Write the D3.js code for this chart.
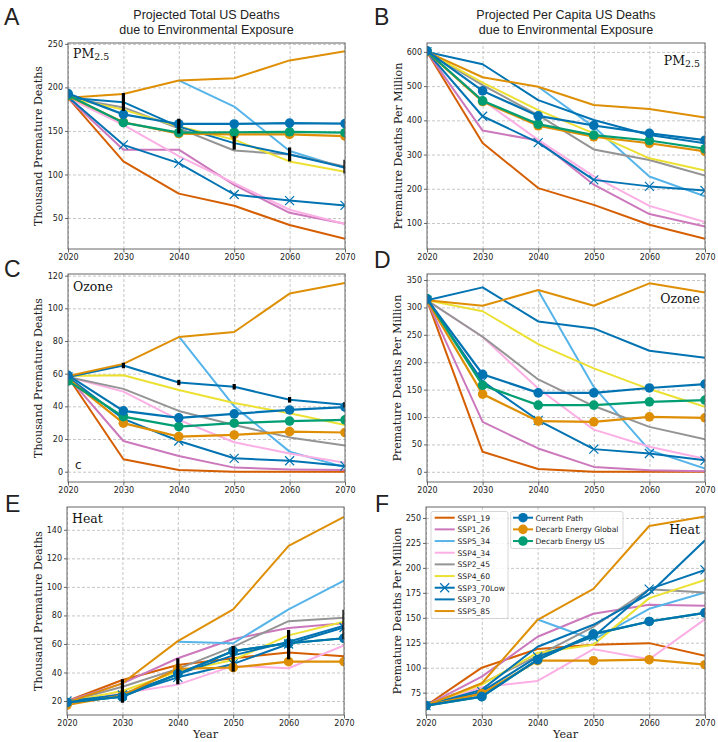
<!DOCTYPE html>
<html><head><meta charset="utf-8">
<script src="https://cdn.jsdelivr.net/npm/d3@7"></script>
<style>body{margin:0;background:#fff;} svg{display:block;}</style>
</head><body>
<svg id="chart" width="718" height="742"></svg>
<script>
// ---------------- DATA ----------------
const years = [2020, 2030, 2040, 2050, 2060, 2070];
const seriesNames = ["SSP1_19","SSP1_26","SSP5_34","SSP4_34","SSP2_45","SSP4_60","SSP3_70Low","SSP3_70","SSP5_85","Current Path","Decarb Energy Global","Decarb Energy US"];
const sspNames = ["SSP1_19","SSP1_26","SSP5_34","SSP4_34","SSP2_45","SSP4_60","SSP3_70Low","SSP3_70","SSP5_85"];
const pathNames = ["Current Path","Decarb Energy Global","Decarb Energy US"];

// rows follow seriesNames order
const pmTotal = [
  [188, 115, 78, 64, 42, 26],
  [188, 128.5, 128.5, 88, 56, 43.5],
  [null, null, 208, 178, 127, 107.5],
  [188, 157, 121, 90, 59.5, 43],
  [188, 177, 153, 127.5, 123, 109],
  [188, 174.5, 155, 140, 115, 103],
  [189, 134, 113, 77, 70, 64.5],
  [188, 183, 155, 136, 123, 108],
  [188, 192.5, 208, 210.5, 231, 241.5],
  [193, 169, 158, 158, 159, 158.5],
  [190, 160, 147, 146, 146, 144],
  [191, 159.5, 148, 148.5, 149, 148]
];
const pmTotalErrLow  = [null, 173, 147, 128.5, 115, 101];
const pmTotalErrHigh = [null, 193.5, 164, 144, 131, 117];

const pmPerCap = [
  [600, 334, 202, 153, 95, 54],
  [600, 370, 341, 212, 126, 90],
  [null, null, 498, 381, 236, 178],
  [600, 459, 343, 236, 150, 103],
  [600, 503, 415, 315, 284, 239],
  [600, 510, 430, 362, 289, 253],
  [600, 412, 335, 226, 207, 195],
  [600, 564, 459, 401, 357, 333],
  [600, 526, 498, 445, 433, 408],
  [603, 486, 413, 385, 362, 342],
  [600, 455, 384, 352, 333, 309],
  [602, 457, 389, 357, 341, 317]
];

const ozTotal = [
  [58, 7.6, 1, 0, 0, 0],
  [58, 18.8, 9.6, 2.5, 1.4, 1],
  [null, null, 82.8, 40, 12.3, 2.7],
  [58, 49, 31.7, 18, 11.2, 5.5],
  [58, 50.7, 37.2, 28.6, 21, 16],
  [58.5, 59, 50, 42, 35.8, 28.6],
  [58, 32.3, 18.8, 8.2, 6.7, 3.5],
  [58, 65, 54.6, 52, 44, 41],
  [58.5, 66, 82.4, 85.5, 109, 115.5],
  [59, 37.2, 33, 35.4, 37.8, 39.5],
  [57, 29.7, 21.5, 22.5, 24.5, 24],
  [55.5, 33.7, 27.6, 29.7, 31, 31.7]
];
const ozTotalErrLow  = [null, 63.3, 53, 50.3, 42.3, 39.3];
const ozTotalErrHigh = [null, 66.7, 56.2, 53.7, 45.7, 42.7];

const ozPerCap = [
  [313, 36.5, 5, 0, 0, 0],
  [313, 91, 42.6, 9, 3, 1],
  [null, null, 331, 155, 39.6, 6],
  [313, 246, 152, 77, 45.6, 24],
  [313, 246.5, 168.6, 120, 82, 59.6],
  [313, 293, 233, 188.7, 151, 118.7],
  [313, 165, 94, 41.4, 33.5, 21],
  [313, 336.6, 274.5, 261.7, 221, 208],
  [313, 303, 331.7, 303, 344, 327],
  [315, 178, 144, 144, 153, 160],
  [313, 141.8, 92.5, 91.3, 100.4, 98.6],
  [316, 158, 121.7, 121.7, 127.8, 131]
];

const heatTotal = [
  [20, 34.7, 45.3, 50, 54, 51.3],
  [20, 32.4, 50, 63.5, 71.2, 74.5],
  [null, null, 61.6, 60.5, 84.3, 104.4],
  [19, 25.4, 31.5, 44.6, 43, 59],
  [19.5, 30, 42.5, 58, 76, 78.3],
  [19.5, 27, 40.6, 48.8, 66, 75.5],
  [20, 24.2, 36.6, 46, 60, 71.5],
  [19, 24.7, 38.7, 52, 61.5, 72.8],
  [19, 32.4, 62, 84.3, 128.8, 149],
  [19, 23, 39, 55, 60.5, 64],
  [17.2, 24, 42.5, 43.5, 47.6, 47.6],
  [19, 23, 39, 55, 60.5, 64]
];
const heatTotalErrLow  = [null, 18.8, 31.7, 40.6, 49.2, 63.3];
const heatTotalErrHigh = [null, 35.3, 50, 58.6, 69.8, 84];

const heatPerCap = [
  [62, 100, 118.7, 123, 124.6, 112],
  [62, 91, 131, 154, 163, 162],
  [null, null, 148.3, 128, 159, 175.4],
  [62, 80.4, 86.7, 118.6, 108.5, 148.6],
  [62, 84, 112, 141, 178.7, 175.4],
  [62, 83, 115, 123, 169.7, 188],
  [62, 76, 111, 131, 178.7, 198],
  [62, 78, 121, 143, 174, 227.6],
  [62, 84.4, 148, 179, 242, 251.6],
  [62, 71, 108, 133.6, 146.3, 155],
  [62, 74, 107, 107, 108, 103],
  [62, 71, 108, 133.6, 146.3, 155]
];

const yTicksPmTotal  = [50, 100, 150, 200, 250];
const yTicksPmPerCap = [100, 200, 300, 400, 500, 600];
const yTicksOzTotal  = [0, 20, 40, 60, 80, 100, 120];
const yTicksOzPerCap = [0, 50, 100, 150, 200, 250, 300, 350];
const yTicksHeatTotal  = [20, 40, 60, 80, 100, 120, 140];
const yTicksHeatPerCap = [75, 100, 125, 150, 175, 200, 225, 250];

// ---------------- STYLE ----------------
const colors = {
  "SSP1_19":"#D55E00","SSP1_26":"#CC78BC","SSP5_34":"#56B4E9","SSP4_34":"#FBAFE4",
  "SSP2_45":"#949494","SSP4_60":"#ECE133","SSP3_70Low":"#0173B2","SSP3_70":"#0173B2",
  "SSP5_85":"#DE8F05","Current Path":"#0173B2","Decarb Energy Global":"#DE8F05","Decarb Energy US":"#029E73"
};
const SANS = "'DejaVu Sans', sans-serif";
const SERIF = "'DejaVu Serif', serif";
const TITLE = "'Liberation Sans', Arial, sans-serif";

const svg = d3.select("#chart");

const panels = [
  {letter:"A", data:pmTotal, x0:68, x1:345, y0:43, y1:249, domain:[14.4,251], ticks:yTicksPmTotal, ylabel:"Thousand Premature Deaths", lx:42, tag:"PM", tagRight:false, tagDy:15.3, err:[pmTotalErrLow,pmTotalErrHigh], lpos:[4,25]},
  {letter:"B", data:pmPerCap, x0:427, x1:705, y0:43, y1:249, domain:[24,626], ticks:yTicksPmPerCap, ylabel:"Premature Deaths Per Million", lx:401.5, tag:"PM", tagRight:true, tagDy:22, err:null, lpos:[374,25]},
  {letter:"C", data:ozTotal, x0:68, x1:345, y0:274, y1:482, domain:[-6.3,121], ticks:yTicksOzTotal, ylabel:"Thousand Premature Deaths", lx:41.5, tag:"Ozone", tagRight:false, tagDy:16.7, err:[ozTotalErrLow,ozTotalErrHigh], lpos:[4,277]},
  {letter:"D", data:ozPerCap, x0:427, x1:705, y0:274, y1:482, domain:[-18.6,361], ticks:yTicksOzPerCap, ylabel:"Premature Deaths Per Million", lx:401, tag:"Ozone", tagRight:true, tagDy:29.3, err:null, lpos:[374,268]},
  {letter:"E", data:heatTotal, x0:67, x1:344, y0:507, y1:715, domain:[10.2,156], ticks:yTicksHeatTotal, ylabel:"Thousand Premature Deaths", lx:41.5, tag:"Heat", tagRight:false, tagDy:16.3, err:[heatTotalErrLow,heatTotalErrHigh], lpos:[5,512], xlabel:"Year"},
  {letter:"F", data:heatPerCap, x0:426, x1:705, y0:507, y1:715, domain:[52.6,261], ticks:yTicksHeatPerCap, ylabel:"Premature Deaths Per Million", lx:401, tag:"Heat", tagRight:true, tagDy:27, err:null, lpos:[375,512], xlabel:"Year", legend:true}
];

// titles
const titles = [
  {cx:206.5, lines:["Projected Total US Deaths","due to Environmental Exposure"]},
  {cx:566, lines:["Projected Per Capita US Deaths","due to Environmental Exposure"]}
];
titles.forEach(t => {
  t.lines.forEach((ln,i) => {
    svg.append("text").attr("x",t.cx).attr("y",19 + i*14.5).attr("text-anchor","middle")
      .attr("font-family",TITLE).attr("font-size",12.5).attr("fill","#222").text(ln);
  });
});

function xMarker(g, cx, cy, color) {
  const s = 4.5;
  g.append("path").attr("d",`M${cx-s},${cy-s}L${cx+s},${cy+s}M${cx-s},${cy+s}L${cx+s},${cy-s}`)
    .attr("stroke",color).attr("stroke-width",1.2).attr("fill","none");
}

panels.forEach((p, pi) => {
  const g = svg.append("g");
  const x = d3.scaleLinear().domain([2020,2070]).range([p.x0,p.x1]);
  const y = d3.scaleLinear().domain(p.domain).range([p.y1,p.y0]);
  const W = p.x1-p.x0, H = p.y1-p.y0;

  // grid
  const gx = g.append("g").attr("transform",`translate(0,${p.y1})`)
    .call(d3.axisBottom(x).tickValues(years).tickSize(-H).tickFormat(""));
  const gy = g.append("g").attr("transform",`translate(${p.x0},0)`)
    .call(d3.axisLeft(y).tickValues(p.ticks).tickSize(-W).tickFormat(""));
  [gx,gy].forEach(a => {
    a.select(".domain").remove();
    a.selectAll("line").attr("stroke","#b8b8b8").attr("stroke-width",0.8).attr("stroke-dasharray","3,2");
  });

  // clip
  const cid = "clip"+pi;
  svg.append("clipPath").attr("id",cid).append("rect")
    .attr("x",p.x0).attr("y",p.y0).attr("width",W).attr("height",H);
  const plot = g.append("g").attr("clip-path",`url(#${cid})`);

  const line = d3.line().defined(d => d[1] !== null).x(d => x(d[0])).y(d => y(d[1]));

  // SSP lines
  sspNames.forEach(name => {
    const idx = seriesNames.indexOf(name);
    const pts = years.map((yr,i) => [yr, p.data[idx][i]]);
    plot.append("path").datum(pts).attr("d",line).attr("fill","none")
      .attr("stroke",colors[name]).attr("stroke-width",2).attr("stroke-linejoin","round");
    if (name === "SSP3_70Low") {
      pts.filter(d => d[1] !== null).forEach(d => xMarker(plot, x(d[0]), y(d[1]), colors[name]));
    }
  });

  // pathway series with circle markers: drawn Global, US, Current
  ["Decarb Energy Global","Decarb Energy US","Current Path"].forEach(name => {
    const idx = seriesNames.indexOf(name);
    const pts = years.map((yr,i) => [yr, p.data[idx][i]]);
    plot.append("path").datum(pts).attr("d",line).attr("fill","none")
      .attr("stroke",colors[name]).attr("stroke-width",2.2);
    plot.selectAll(null).data(pts).enter().append("circle")
      .attr("cx",d => x(d[0])).attr("cy",d => y(d[1])).attr("r",4.8).attr("fill",colors[name]);
  });

  // error bars
  if (p.err) {
    years.forEach((yr,i) => {
      if (p.err[0][i] === null) return;
      plot.append("line").attr("x1",x(yr)).attr("x2",x(yr))
        .attr("y1",y(p.err[0][i])).attr("y2",y(p.err[1][i]))
        .attr("stroke","#000").attr("stroke-width",3.2);
    });
  }

  // frame
  g.append("rect").attr("x",p.x0).attr("y",p.y0).attr("width",W).attr("height",H)
    .attr("fill","none").attr("stroke","#666").attr("stroke-width",1);

  // axes
  const ax = g.append("g").attr("transform",`translate(0,${p.y1})`)
    .call(d3.axisBottom(x).tickValues(years).tickFormat(d3.format("d")).tickSize(3.5).tickPadding(2));
  const ay = g.append("g").attr("transform",`translate(${p.x0},0)`)
    .call(d3.axisLeft(y).tickValues(p.ticks).tickFormat(d3.format("d")).tickSize(3).tickPadding(2));
  [ax,ay].forEach(a => {
    a.select(".domain").remove();
    a.selectAll("line").attr("stroke","#444").attr("stroke-width",0.8);
    a.selectAll("text").attr("font-family",SANS).attr("font-size",8).attr("fill","#222");
  });

  // y label
  g.append("text").attr("transform",`translate(${p.lx},${(p.y0+p.y1)/2}) rotate(-90)`)
    .attr("text-anchor","middle").attr("font-family",SERIF).attr("font-size",11).attr("fill","#222")
    .text(p.ylabel);

  // x label
  if (p.xlabel) {
    g.append("text").attr("x",(p.x0+p.x1)/2).attr("y",738).attr("text-anchor","middle")
      .attr("font-family",SERIF).attr("font-size",11.2).attr("fill","#222").text(p.xlabel);
  }

  // panel letter
  svg.append("text").attr("x",p.lpos[0]).attr("y",p.lpos[1]).attr("font-family",TITLE)
    .attr("font-size",23).attr("fill","#222").text(p.letter);

  // tag
  const tx = p.tagRight ? p.x1-5 : p.x0+5;
  const tag = g.append("text").attr("x",tx).attr("y",p.y0+p.tagDy)
    .attr("text-anchor",p.tagRight ? "end" : "start")
    .attr("font-family",SERIF).attr("font-size",12.5).attr("fill","#111");
  if (p.tag === "PM") {
    tag.append("tspan").text("PM");
    tag.append("tspan").attr("font-size",9.4).attr("dy",2).text("2.5");
  } else {
    tag.text(p.tag);
  }

  if (p.letter === "C") {
    g.append("text").attr("x",75).attr("y",469).attr("font-family",SANS).attr("font-size",12)
      .attr("fill","#222").text("c");
  }

  // legend
  if (p.legend) {
    const lg = svg.append("g");
    lg.append("rect").attr("x",431).attr("y",511.5).attr("width",77).attr("height",107)
      .attr("rx",2).attr("fill","#fff").attr("fill-opacity",0.85).attr("stroke","#ccc").attr("stroke-width",0.8);
    sspNames.forEach((name,i) => {
      const cy = 517.7 + i*11.67;
      lg.append("line").attr("x1",434.7).attr("x2",454.7).attr("y1",cy).attr("y2",cy)
        .attr("stroke",colors[name]).attr("stroke-width",2);
      if (name === "SSP3_70Low") xMarker(lg, 444.7, cy, colors[name]);
      lg.append("text").attr("x",457.5).attr("y",cy+2.8).attr("font-family",SANS).attr("font-size",7.6)
        .attr("fill","#222").text(name);
    });
    lg.append("rect").attr("x",510.7).attr("y",511.5).attr("width",112.3).attr("height",37)
      .attr("rx",2).attr("fill","#fff").attr("fill-opacity",0.85).attr("stroke","#ccc").attr("stroke-width",0.8);
    pathNames.forEach((name,i) => {
      const cy = 517.7 + i*11.67;
      lg.append("line").attr("x1",513).attr("x2",533).attr("y1",cy).attr("y2",cy)
        .attr("stroke",colors[name]).attr("stroke-width",2);
      lg.append("circle").attr("cx",523).attr("cy",cy).attr("r",4.8).attr("fill",colors[name]);
      lg.append("text").attr("x",535.5).attr("y",cy+2.8).attr("font-family",SANS).attr("font-size",7.6)
        .attr("fill","#222").text(name);
    });
  }
});
</script>
</body></html>
